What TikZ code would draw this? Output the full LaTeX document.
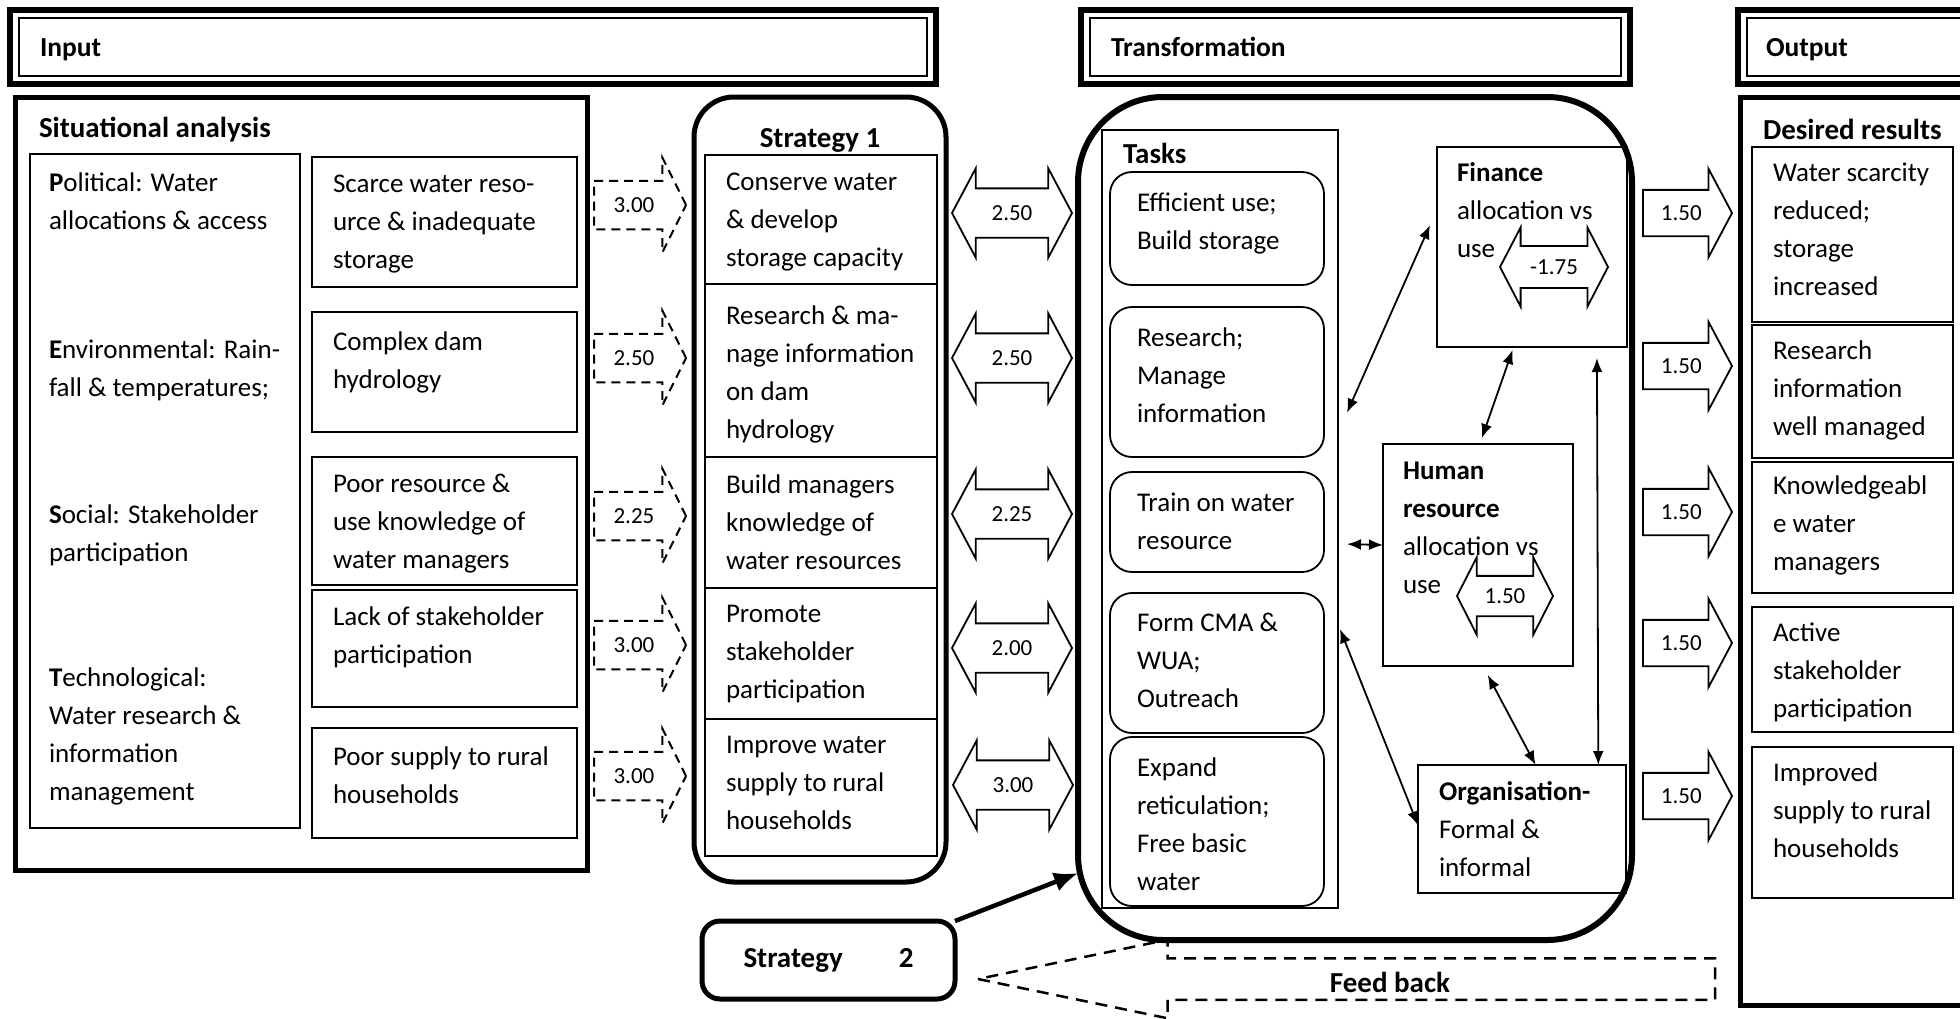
\documentclass[tikz,border=0pt]{standalone}
\usepackage{fontspec}
\setmainfont{Carlito}
\usetikzlibrary{shapes.arrows, arrows.meta, positioning}

\tikzset{
  hdr/.style={draw, line width=6pt, anchor=north west, minimum height=74pt},
  hdrtxt/.style={anchor=base west, inner sep=0pt, font=\fontsize{27.5}{38}\selectfont\bfseries},
  bigbox/.style={draw, line width=5pt, anchor=north west},
  cell/.style={draw, line width=1.8pt, anchor=north west},
  task/.style={cell, rounded corners=22pt},
  txt/.style={anchor=north west, align=left, inner sep=0pt, yshift=-7.5pt, execute at begin node=\strut},
  ttl/.style={anchor=base west, inner sep=0pt, font=\fontsize{29}{38}\selectfont\bfseries},
  num/.style={inner xsep=0pt, font=\fontsize{23}{23}\selectfont},
  inarrow/.style={single arrow, draw, num, anchor=tail, line width=2pt, dash pattern=on 9pt off 6pt,
    inner ysep=15.7pt, minimum height=92pt, minimum width=92pt, single arrow head extend=23pt, single arrow tip angle=127},
  outarrow/.style={single arrow, draw, num, anchor=tail, line width=1.8pt, inner ysep=14.7pt,
    minimum height=89pt, minimum width=86pt, single arrow head extend=21pt, single arrow tip angle=124},
  linkarrow/.style={double arrow, draw, num, line width=1.8pt, inner ysep=16.2pt,
    minimum height=120pt, minimum width=87pt, double arrow head extend=20pt, double arrow tip angle=124},
  tie/.style={<->, line width=1.8pt},
}

\begin{document}
\begin{tikzpicture}[x=1pt, y=-1pt, outer sep=0pt, >={Latex[length=14pt, width=11pt]},
  font=\fontsize{27}{38}\selectfont]
\useasboundingbox (0,0) rectangle (1960,1018);
\clip (0,0) rectangle (1960,1018);

% headings
\node[hdr, minimum width=926pt] (hin) at (10,10) {};
\node[hdr, minimum width=549pt] (htr) at (1081,10) {};
\node[hdr, minimum width=262pt] (hout) at (1738,10) {};
\foreach \h in {hin, htr, hout}
  \draw[line width=1.8pt] ([xshift=9pt, yshift=-8pt] \h.north west) rectangle ([xshift=-9pt, yshift=8pt] \h.south east);
\node[hdrtxt] (hint) at ([xshift=30pt, yshift=-9pt] hin.west) {Input};
\node[hdrtxt] (htrt) at ([xshift=30pt, yshift=-9pt] htr.west) {Transformation};
\node[hdrtxt] (houtt) at ([xshift=28pt, yshift=-9pt] hout.west) {Output};

% situational analysis
\node[bigbox, minimum width=572pt, minimum height=773pt] (sa) at (15,97) {};
\node[ttl] (sat) at ([xshift=24pt, yshift=-40pt] sa.north west) {Situational analysis};
\node[cell, minimum width=270pt, minimum height=674pt] (pest) at (30,154) {};
\node[txt] (pol) at (49,165) {\textbf{P}olitical: Water\\allocations \& access};
\node[txt] (env) at (49,332) {\textbf{E}nvironmental: Rain-\\fall \& temperatures;};
\node[txt] (soc) at (49,497) {\textbf{S}ocial: Stakeholder\\participation};
\node[txt] (tec) at (49,660) {\textbf{T}echnological:\\Water research \&\\information\\management};

\node[cell, minimum width=265pt, minimum height=130pt] (sa1) at (312,157) {};
\node[cell, minimum width=265pt, minimum height=120pt] (sa2) at (312,312) {};
\node[cell, minimum width=265pt, minimum height=128pt] (sa3) at (312,457) {};
\node[cell, minimum width=265pt, minimum height=117pt] (sa4) at (312,590) {};
\node[cell, minimum width=265pt, minimum height=110pt] (sa5) at (312,728) {};
\node[txt] (sa1t) at ([xshift=21pt, yshift=-10pt] sa1.north west) {Scarce water reso-\\urce \& inadequate\\storage};
\node[txt] (sa2t) at ([xshift=21pt, yshift=-12pt] sa2.north west) {Complex dam\\hydrology};
\node[txt] (sa3t) at ([xshift=21pt, yshift=-10pt] sa3.north west) {Poor resource \&\\use knowledge of\\water managers};
\node[txt] (sa4t) at ([xshift=21pt, yshift=-9pt] sa4.north west) {Lack of stakeholder\\participation};
\node[txt] (sa5t) at ([xshift=21pt, yshift=-11pt] sa5.north west) {Poor supply to rural\\households};

% scores into strategy 1
\node[inarrow] (in1) at (594,205) {3.00};
\node[inarrow] (in2) at (594,358) {2.50};
\node[inarrow] (in3) at (594,516) {2.25};
\node[inarrow] (in4) at (594,645) {3.00};
\node[inarrow] (in5) at (594,776) {3.00};

% strategy 1
\node[bigbox, rounded corners=40pt, minimum width=252pt, minimum height=785pt] (st) at (694,97) {};
\node[ttl, anchor=base] (stt) at ([yshift=-50pt] st.north) {Strategy 1};
\node[cell, minimum width=232pt, minimum height=129pt] (s1) at (705,155) {};
\node[cell, minimum width=232pt, minimum height=173pt] (s2) at (705,284) {};
\node[cell, minimum width=232pt, minimum height=131pt] (s3) at (705,457) {};
\node[cell, minimum width=232pt, minimum height=131pt] (s4) at (705,588) {};
\node[cell, minimum width=232pt, minimum height=137pt] (s5) at (705,719) {};
\node[txt] (s1t) at ([xshift=21pt, yshift=-10pt] s1.north west) {Conserve water\\\& develop\\storage capacity};
\node[txt] (s2t) at ([xshift=21pt, yshift=-14pt] s2.north west) {Research \& ma-\\nage information\\on dam\\hydrology};
\node[txt] (s3t) at ([xshift=21pt, yshift=-10pt] s3.north west) {Build managers\\knowledge of\\water resources};
\node[txt] (s4t) at ([xshift=21pt, yshift=-10pt] s4.north west) {Promote\\stakeholder\\participation};
\node[txt] (s5t) at ([xshift=21pt, yshift=-10pt] s5.north west) {Improve water\\supply to rural\\households};

% strategy 1 <-> tasks
\node[linkarrow] (lk1) at (1012,213) {2.50};
\node[linkarrow] (lk2) at (1012,358) {2.50};
\node[linkarrow] (lk3) at (1012,514) {2.25};
\node[linkarrow] (lk4) at (1012,648) {2.00};
\node[linkarrow] (lk5) at (1013,785) {3.00};

% transformation
\node[bigbox, line width=6pt, rounded corners=85pt, minimum width=554pt, minimum height=843pt] (tr) at (1078,97) {};
\node[cell, minimum width=236pt, minimum height=778pt] (tasks) at (1102,130) {};
\node[ttl] (taskst) at ([xshift=21pt, yshift=-33pt] tasks.north west) {Tasks};
\node[task, minimum width=214pt, minimum height=113pt] (t1) at (1110,172) {};
\node[task, minimum width=214pt, minimum height=150pt] (t2) at (1110,307) {};
\node[task, minimum width=214pt, minimum height=100pt] (t3) at (1110,472) {};
\node[task, minimum width=214pt, minimum height=140pt] (t4) at (1110,593) {};
\node[task, minimum width=214pt, minimum height=169pt] (t5) at (1110,737) {};
\node[txt] (t1t) at ([xshift=27pt, yshift=-13pt] t1.north west) {Efficient use;\\Build storage};
\node[txt] (t2t) at ([xshift=27pt, yshift=-13pt] t2.north west) {Research;\\Manage\\information};
\node[txt] (t3t) at ([xshift=27pt, yshift=-13pt] t3.north west) {Train on water\\resource};
\node[txt] (t4t) at ([xshift=27pt, yshift=-13pt] t4.north west) {Form CMA \&\\WUA;\\Outreach};
\node[txt] (t5t) at ([xshift=27pt, yshift=-13pt] t5.north west) {Expand\\reticulation;\\Free basic\\water};

\node[cell, minimum width=190pt, minimum height=200pt] (fin) at (1437,147) {};
\node[txt] (fint) at ([xshift=20pt, yshift=-8pt] fin.north west) {\textbf{Finance}\\allocation vs\\use};
\node[linkarrow, inner ysep=12.7pt, minimum height=108pt, minimum width=77pt, double arrow head extend=18.5pt,
  double arrow tip angle=125] (fins) at (1554,267) {-1.75};

\node[cell, minimum width=190pt, minimum height=222pt] (hr) at (1383,444) {};
\node[txt] (hrt) at ([xshift=20pt, yshift=-10pt] hr.north west) {\textbf{Human}\\\textbf{resource}\\allocation vs\\use};
\node[linkarrow, inner ysep=11.7pt, minimum height=96pt, minimum width=75pt, double arrow head extend=18.5pt,
  double arrow tip angle=126] (hrs) at (1505,596) {1.50};

\node[cell, minimum width=208pt, minimum height=128pt] (org) at (1418,765) {};
\node[txt] (orgt) at ([xshift=21pt, yshift=-9pt] org.north west) {\textbf{Organisation-}\\Formal \&\\informal};

\draw[tie] ([xshift=9pt] tasks.42) -- ([xshift=-7pt] fin.167);
\draw[tie] ([yshift=-3pt] fin.259) -- ([yshift=6pt] hr.88);
\draw[tie] ([xshift=9pt] tasks.348) -- (hr.174);
\draw[tie] ([xshift=2pt] tasks.317) -- (org.178);
\draw[tie] ([yshift=-9pt] hr.275) -- (org.78);
\draw[tie] ([yshift=-11pt] fin.303) -- (org.40);

% strategy 2
\node[bigbox, rounded corners=18pt, minimum width=253pt, minimum height=78pt,
  font=\fontsize{29}{38}\selectfont\bfseries] (strat2) at (702,921) {Strategy\hspace{56pt}2};
\draw[line width=4.5pt, -{Latex[length=24pt, width=20pt]}] (strat2.north east) -- (tr.232);

% feed back
\node[single arrow, draw, shape border rotate=180, anchor=tip, line width=2.5pt, dash pattern=on 12pt off 8pt,
  minimum height=737pt, minimum width=76pt, single arrow head extend=18.5pt, single arrow tip angle=23.4,
  inner xsep=0pt, inner ysep=19.5pt] (fb) at (978,979) {};
\node[ttl, anchor=base] (fbt) at (1390,992) {Feed back};

% scores into desired results
\node[outarrow] (out1) at (1643,213) {1.50};
\node[outarrow] (out2) at (1643,366) {1.50};
\node[outarrow] (out3) at (1643,512) {1.50};
\node[outarrow] (out4) at (1643,643) {1.50};
\node[outarrow] (out5) at (1643,796) {1.50};

% desired results
\node[bigbox, minimum width=262pt, minimum height=908pt] (dr) at (1740,97) {};
\node[ttl] (drt) at ([xshift=23pt, yshift=-42pt] dr.north west) {Desired results};
\node[cell, minimum width=201pt, minimum height=175pt] (r1) at (1752,147) {};
\node[cell, minimum width=201pt, minimum height=133pt] (r2) at (1752,325) {};
\node[cell, minimum width=201pt, minimum height=131pt] (r3) at (1752,462) {};
\node[cell, minimum width=201pt, minimum height=125pt] (r4) at (1752,607) {};
\node[cell, minimum width=201pt, minimum height=151pt] (r5) at (1752,747) {};
\node[txt] (r1t) at ([xshift=21pt, yshift=-8pt] r1.north west) {Water scarcity\\reduced;\\storage\\increased};
\node[txt] (r2t) at ([xshift=21pt, yshift=-8pt] r2.north west) {Research\\information\\well managed};
\node[txt] (r3t) at ([xshift=21pt, yshift=-6pt] r3.north west) {Knowledgeabl\\e water\\managers};
\node[txt] (r4t) at ([xshift=21pt, yshift=-8pt] r4.north west) {Active\\stakeholder\\participation};
\node[txt] (r5t) at ([xshift=21pt, yshift=-8pt] r5.north west) {Improved\\supply to rural\\households};
\end{tikzpicture}
\end{document}
